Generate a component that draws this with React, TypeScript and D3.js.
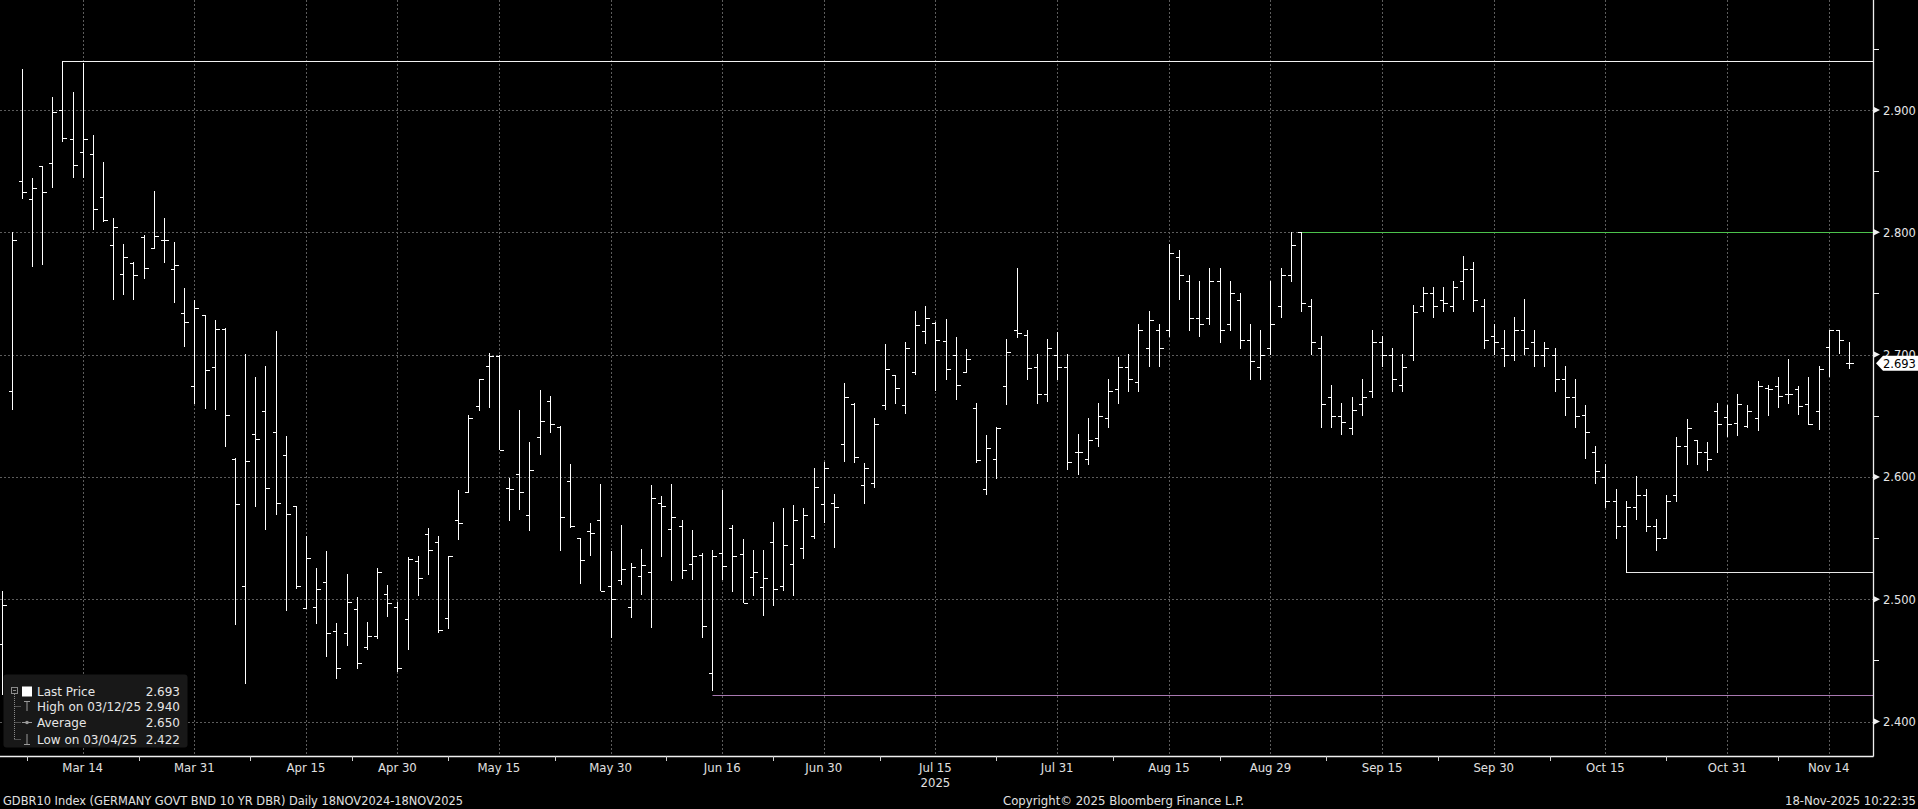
import React from "react";
import * as d3 from "d3";

const dates = [
  "2025-03-04","2025-03-05","2025-03-06","2025-03-07","2025-03-10","2025-03-11","2025-03-12","2025-03-13","2025-03-14",
  "2025-03-17","2025-03-18","2025-03-19","2025-03-20","2025-03-21","2025-03-24","2025-03-25","2025-03-26","2025-03-27","2025-03-28","2025-03-31",
  "2025-04-01","2025-04-02","2025-04-03","2025-04-04","2025-04-07","2025-04-08","2025-04-09","2025-04-10","2025-04-11","2025-04-14","2025-04-15",
  "2025-04-16","2025-04-17","2025-04-22","2025-04-23","2025-04-24","2025-04-25","2025-04-28","2025-04-29","2025-04-30",
  "2025-05-02","2025-05-05","2025-05-06","2025-05-07","2025-05-08","2025-05-09","2025-05-12","2025-05-13","2025-05-14","2025-05-15","2025-05-16",
  "2025-05-19","2025-05-20","2025-05-21","2025-05-22","2025-05-23","2025-05-26","2025-05-27","2025-05-28","2025-05-29","2025-05-30",
  "2025-06-02","2025-06-03","2025-06-04","2025-06-05","2025-06-06","2025-06-09","2025-06-10","2025-06-11","2025-06-12","2025-06-13",
  "2025-06-16","2025-06-17","2025-06-18","2025-06-19","2025-06-20","2025-06-23","2025-06-24","2025-06-25","2025-06-26","2025-06-27","2025-06-30",
  "2025-07-01","2025-07-02","2025-07-03","2025-07-04","2025-07-07","2025-07-08","2025-07-09","2025-07-10","2025-07-11","2025-07-14","2025-07-15",
  "2025-07-16","2025-07-17","2025-07-18","2025-07-21","2025-07-22","2025-07-23","2025-07-24","2025-07-25","2025-07-28","2025-07-29","2025-07-30","2025-07-31",
  "2025-08-01","2025-08-04","2025-08-05","2025-08-06","2025-08-07","2025-08-08","2025-08-11","2025-08-12","2025-08-13","2025-08-14","2025-08-15",
  "2025-08-18","2025-08-19","2025-08-20","2025-08-21","2025-08-22","2025-08-25","2025-08-26","2025-08-27","2025-08-28","2025-08-29",
  "2025-09-01","2025-09-02","2025-09-03","2025-09-04","2025-09-05","2025-09-08","2025-09-09","2025-09-10","2025-09-11","2025-09-12",
  "2025-09-15","2025-09-16","2025-09-17","2025-09-18","2025-09-19","2025-09-22","2025-09-23","2025-09-24","2025-09-25","2025-09-26","2025-09-29","2025-09-30",
  "2025-10-01","2025-10-02","2025-10-03","2025-10-06","2025-10-07","2025-10-08","2025-10-09","2025-10-10","2025-10-13","2025-10-14","2025-10-15",
  "2025-10-16","2025-10-17","2025-10-20","2025-10-21","2025-10-22","2025-10-23","2025-10-24","2025-10-27","2025-10-28","2025-10-29","2025-10-30","2025-10-31",
  "2025-11-03","2025-11-04","2025-11-05","2025-11-06","2025-11-07","2025-11-10","2025-11-11","2025-11-12","2025-11-13","2025-11-14","2025-11-17","2025-11-18"
];

const opens = [
  2.463,2.670,2.842,2.827,2.854,2.857,2.900,2.876,2.866,
  2.864,2.829,2.790,2.766,2.775,2.796,2.787,2.794,2.770,2.734,2.674,
  2.732,2.690,2.721,2.615,2.511,2.635,2.654,2.637,2.618,2.576,2.493,
  2.494,2.514,2.474,2.472,2.492,2.461,2.470,2.504,2.494,
  2.484,2.531,2.553,2.547,2.485,2.565,2.588,2.658,2.691,2.699,2.591,
  2.602,2.569,2.633,2.662,2.641,2.597,2.550,2.556,2.565,2.511,
  2.516,2.494,2.519,2.522,2.579,2.557,2.560,2.529,2.536,2.440,
  2.538,2.558,2.537,2.518,2.510,2.547,2.511,2.529,2.542,2.552,2.578,
  2.579,2.627,2.660,2.593,2.595,2.659,2.683,2.659,2.686,2.719,2.726,
  2.711,2.700,2.686,2.656,2.590,2.615,2.674,2.720,2.716,2.690,2.668,2.700,
  2.690,2.620,2.615,2.632,2.648,2.672,2.690,2.678,2.705,2.720,2.720,
  2.780,2.760,2.730,2.730,2.760,2.725,2.745,2.712,2.690,2.705,
  2.740,2.765,2.800,2.740,2.705,2.665,2.650,2.640,2.660,2.670,
  2.710,2.700,2.675,2.700,2.740,2.750,2.745,2.740,2.760,2.770,2.740,2.715,
  2.705,2.700,2.720,2.710,2.700,2.700,2.680,2.665,2.651,2.620,2.600,
  2.580,2.560,2.575,2.585,2.560,2.550,2.585,2.625,2.630,2.620,2.654,2.649,
  2.644,2.642,2.648,2.673,2.674,2.668,2.672,2.660,2.654,2.706,2.720,2.693
];

const highs = [
  2.506,2.800,2.933,2.844,2.854,2.910,2.940,2.914,2.938,
  2.879,2.857,2.811,2.790,2.775,2.797,2.833,2.811,2.792,2.754,2.744,
  2.732,2.728,2.721,2.615,2.700,2.681,2.690,2.719,2.633,2.576,2.551,
  2.525,2.539,2.480,2.520,2.501,2.481,2.525,2.511,2.497,
  2.534,2.535,2.558,2.551,2.535,2.589,2.650,2.680,2.701,2.699,2.599,
  2.654,2.628,2.671,2.666,2.641,2.610,2.550,2.562,2.594,2.539,
  2.560,2.529,2.541,2.593,2.584,2.594,2.564,2.556,2.537,2.540,
  2.589,2.560,2.549,2.540,2.540,2.563,2.574,2.577,2.574,2.607,2.612,
  2.586,2.676,2.660,2.611,2.648,2.708,2.683,2.710,2.735,2.739,2.726,
  2.729,2.714,2.704,2.660,2.634,2.640,2.712,2.770,2.720,2.700,2.712,2.718,
  2.700,2.635,2.648,2.660,2.680,2.698,2.700,2.725,2.735,2.725,2.790,
  2.785,2.765,2.760,2.770,2.770,2.760,2.750,2.725,2.720,2.760,
  2.770,2.800,2.800,2.745,2.715,2.675,2.660,2.665,2.680,2.720,
  2.715,2.705,2.700,2.740,2.755,2.755,2.755,2.760,2.780,2.775,2.745,2.725,
  2.720,2.730,2.745,2.720,2.710,2.705,2.690,2.680,2.658,2.625,2.610,
  2.590,2.580,2.600,2.590,2.565,2.585,2.632,2.647,2.630,2.628,2.660,2.658,
  2.667,2.658,2.678,2.675,2.681,2.696,2.674,2.681,2.690,2.720,2.720,2.710
];

const lows = [
  2.422,2.655,2.828,2.772,2.774,2.837,2.874,2.845,2.845,
  2.802,2.809,2.745,2.749,2.745,2.762,2.787,2.775,2.743,2.707,2.660,
  2.656,2.655,2.625,2.479,2.431,2.576,2.557,2.569,2.491,2.509,2.493,
  2.480,2.453,2.435,2.462,2.443,2.459,2.468,2.486,2.441,
  2.459,2.503,2.520,2.473,2.476,2.549,2.588,2.654,2.657,2.622,2.564,
  2.573,2.556,2.618,2.636,2.540,2.559,2.513,2.536,2.507,2.469,
  2.512,2.485,2.504,2.477,2.535,2.515,2.517,2.516,2.469,2.425,
  2.516,2.506,2.497,2.503,2.487,2.495,2.507,2.503,2.533,2.550,2.563,
  2.542,2.613,2.612,2.578,2.591,2.655,2.660,2.652,2.684,2.709,2.671,
  2.680,2.663,2.686,2.612,2.586,2.599,2.659,2.714,2.680,2.660,2.662,2.680,
  2.606,2.602,2.610,2.625,2.640,2.660,2.670,2.670,2.690,2.690,2.715,
  2.745,2.720,2.715,2.725,2.710,2.720,2.705,2.680,2.680,2.700,
  2.730,2.760,2.735,2.700,2.640,2.640,2.635,2.635,2.650,2.665,
  2.690,2.670,2.670,2.695,2.735,2.730,2.735,2.735,2.745,2.735,2.705,2.700,
  2.690,2.695,2.700,2.690,2.690,2.670,2.650,2.640,2.615,2.595,2.575,
  2.550,2.522,2.565,2.555,2.540,2.550,2.580,2.610,2.610,2.605,2.620,2.633,
  2.634,2.640,2.638,2.650,2.657,2.660,2.651,2.643,2.639,2.682,2.701,2.689
];

const closes = [
  2.495,2.794,2.833,2.836,2.833,2.898,2.877,2.855,2.876,
  2.819,2.810,2.804,2.780,2.765,2.771,2.797,2.794,2.773,2.727,2.738,
  2.687,2.721,2.651,2.578,2.613,2.631,2.591,2.579,2.570,2.511,2.534,
  2.508,2.472,2.444,2.498,2.448,2.470,2.522,2.497,2.444,
  2.533,2.517,2.540,2.475,2.535,2.562,2.648,2.680,2.699,2.622,2.590,
  2.588,2.606,2.646,2.643,2.567,2.560,2.532,2.554,2.507,2.500,
  2.525,2.526,2.528,2.583,2.576,2.567,2.524,2.535,2.478,2.535,
  2.527,2.535,2.497,2.522,2.517,2.508,2.544,2.565,2.569,2.592,2.607,
  2.575,2.665,2.616,2.607,2.643,2.688,2.673,2.705,2.724,2.730,2.712,
  2.688,2.675,2.696,2.614,2.624,2.640,2.702,2.718,2.689,2.668,2.705,2.690,
  2.612,2.620,2.630,2.650,2.670,2.690,2.680,2.720,2.728,2.705,2.783,
  2.765,2.730,2.725,2.760,2.720,2.750,2.712,2.695,2.700,2.725,
  2.765,2.790,2.742,2.710,2.660,2.650,2.645,2.655,2.665,2.710,
  2.700,2.680,2.690,2.735,2.750,2.740,2.742,2.755,2.770,2.745,2.712,2.710,
  2.700,2.720,2.705,2.700,2.705,2.680,2.665,2.650,2.637,2.605,2.580,
  2.560,2.575,2.585,2.560,2.550,2.580,2.625,2.640,2.620,2.615,2.643,2.643,
  2.660,2.654,2.674,2.672,2.666,2.668,2.658,2.643,2.688,2.720,2.712,2.693
];

const yTicks = [2.4, 2.5, 2.6, 2.7, 2.8, 2.9];
const yMinorTicks = [2.45, 2.55, 2.65, 2.75, 2.85, 2.95];
const xTickDates = ["2025-03-14","2025-03-31","2025-04-15","2025-04-30","2025-05-15","2025-05-30","2025-06-16","2025-06-30",
  "2025-07-15","2025-07-31","2025-08-15","2025-08-29","2025-09-15","2025-09-30","2025-10-15","2025-10-31","2025-11-14"];
const xTickLabels = ["Mar 14","Mar 31","Apr 15","Apr 30","May 15","May 30","Jun 16","Jun 30",
  "Jul 15","Jul 31","Aug 15","Aug 29","Sep 15","Sep 30","Oct 15","Oct 31","Nov 14"];

const refValues = [2.94, 2.8, 2.422, 2.522];
const refStarts = ["2025-03-12", "2025-09-03", "2025-06-13", "2025-10-17"];
const refColors = ["#f2f2f2", "#4cc24c", "#a878b0", "#e8e8e8"];

const legendLabels = ["Last Price", "High on 03/12/25", "Average", "Low on 03/04/25"];
const legendValues = ["2.693", "2.940", "2.650", "2.422"];
const lastPrice = 2.693;

const W = 1918, H = 809;
const AXIS_X = 1873, AXIS_Y = 756;
const COND = "'Liberation Sans Narrow','DejaVu Sans Condensed','Arial Narrow',sans-serif";
const SANS = "'DejaVu Sans','Noto Sans',sans-serif";

export default function App() {
  const x = d3.scalePoint<string>().domain(dates).range([1.5, 1849]);
  const y = d3.scaleLinear().domain([2.4, 2.9]).range([721.5, 110]);
  const px = (v: number) => Math.round(v) + 0.5;

  const bars = dates.map((d, i) => {
    const cx = px(x(d)!);
    const p = d3.path();
    p.moveTo(cx, y(highs[i]) - 0.5);
    p.lineTo(cx, y(lows[i]) + 0.5);
    p.moveTo(cx - 4, Math.round(y(opens[i])) + 0.5);
    p.lineTo(cx, Math.round(y(opens[i])) + 0.5);
    p.moveTo(cx, Math.round(y(closes[i])) + 0.5);
    p.lineTo(cx + 4, Math.round(y(closes[i])) + 0.5);
    return p.toString();
  });

  const tickIdx = xTickDates.map((d) => dates.indexOf(d));
  const minorX: number[] = [];
  tickIdx.forEach((ti, k) => {
    const prev = k === 0 ? ti - (tickIdx[1] - tickIdx[0]) : tickIdx[k - 1];
    const mid = (prev + ti) / 2;
    minorX.push(1.5 + (mid / (dates.length - 1)) * (1849 - 1.5));
  });

  const lpY = y(lastPrice);

  return (
    <div style={{ position: "absolute", left: 0, top: 0, width: W, height: H, background: "#000", overflow: "hidden" }}>
      <svg width={W} height={H} style={{ display: "block" }}>
        <rect x={0} y={0} width={W} height={H} fill="#000" />
        {yTicks.map((t) => (
          <line key={"gy" + t} x1={0} x2={AXIS_X} y1={px(y(t))} y2={px(y(t))} stroke="#5c5c5c" strokeDasharray="2,2" />
        ))}
        {xTickDates.map((d) => (
          <line key={"gx" + d} x1={px(x(d)!)} x2={px(x(d)!)} y1={0} y2={AXIS_Y} stroke="#5c5c5c" strokeDasharray="2,2" />
        ))}
        {refValues.map((v, i) => (
          <line key={"ref" + i} x1={px(x(refStarts[i])!)} x2={AXIS_X} y1={px(y(v))} y2={px(y(v))} stroke={refColors[i]} strokeWidth={1.2} />
        ))}
        <g stroke="#ffffff" strokeWidth={1.3} fill="none" shapeRendering="crispEdges">
          {bars.map((b, i) => (
            <path key={i} d={b} />
          ))}
        </g>
        <line x1={AXIS_X + 0.5} x2={AXIS_X + 0.5} y1={0} y2={AXIS_Y + 0.5} stroke="#f0f0f0" strokeWidth={1.3} />
        <line x1={0} x2={AXIS_X + 0.5} y1={AXIS_Y + 0.5} y2={AXIS_Y + 0.5} stroke="#f0f0f0" strokeWidth={1.3} />
        {yMinorTicks.map((t) => (
          <line key={"ym" + t} x1={AXIS_X} x2={AXIS_X + 6} y1={px(y(t))} y2={px(y(t))} stroke="#f0f0f0" />
        ))}
        {yTicks.map((t) => (
          <g key={"yl" + t}>
            <path d={`M${AXIS_X + 1},${y(t) - 3}L${AXIS_X + 7},${y(t)}L${AXIS_X + 1},${y(t) + 3}Z`} fill="#f0f0f0" />
            <text x={AXIS_X + 10} y={y(t) + 4.5} fill="#e6e6e6" fontFamily={SANS} fontSize={11.5}>
              {d3.format(".3f")(t)}
            </text>
          </g>
        ))}
        {minorX.map((mx, i) => (
          <line key={"xm" + i} x1={px(mx)} x2={px(mx)} y1={AXIS_Y} y2={AXIS_Y + 5} stroke="#d0d0d0" />
        ))}
        {xTickDates.map((d, i) => (
          <text key={"xl" + d} x={x(d)!} y={772} textAnchor="middle" fill="#e0e0e0" fontFamily={COND} fontSize={13}>
            {xTickLabels[i]}
          </text>
        ))}
        <text x={x("2025-07-15")!} y={787} textAnchor="middle" fill="#e0e0e0" fontFamily={COND} fontSize={13}>2025</text>

        <path d={`M${AXIS_X + 3},${lpY}L${AXIS_X + 10},${lpY - 7.5}L${W},${lpY - 7.5}L${W},${lpY + 7.5}L${AXIS_X + 10},${lpY + 7.5}Z`} fill="#ffffff" />
        <text x={AXIS_X + 10} y={lpY + 4.5} fill="#000" fontFamily={SANS} fontSize={11.5}>{d3.format(".3f")(lastPrice)}</text>

        <rect x={3.5} y={674.5} width={184} height={73} rx={3} fill="#181818" />
        <g stroke="#8a8a8a" strokeDasharray="1,1" fill="none">
          <line x1={14.5} x2={14.5} y1={694} y2={739} />
          <line x1={14.5} x2={21} y1={706.5} y2={706.5} />
          <line x1={14.5} x2={21} y1={722.5} y2={722.5} />
          <line x1={14.5} x2={21} y1={739.5} y2={739.5} />
        </g>
        <rect x={11.5} y={687.5} width={6} height={6} fill="#181818" stroke="#8a8a8a" />
        <line x1={13} x2={16} y1={690.5} y2={690.5} stroke="#8a8a8a" />
        <rect x={22} y={686.5} width={10} height={10} fill="#ffffff" />
        <g stroke="#9a9a9a" fill="none">
          <line x1={24} x2={30} y1={701.5} y2={701.5} />
          <line x1={27} x2={27} y1={701.5} y2={711} />
          <line x1={22} x2={32} y1={722.5} y2={722.5} />
          <line x1={27} x2={27} y1={734} y2={744} />
          <line x1={24} x2={30} y1={744.5} y2={744.5} />
        </g>
        <circle cx={27} cy={722.5} r={1.8} fill="#9a9a9a" />
        {legendLabels.map((l, i) => (
          <g key={"lg" + i}>
            <text x={37} y={[696, 711, 727, 744][i]} fill="#e6e6e6" fontFamily={SANS} fontSize={12}>{l}</text>
            <text x={180} y={[696, 711, 727, 744][i]} textAnchor="end" fill="#e6e6e6" fontFamily={SANS} fontSize={12}>{legendValues[i]}</text>
          </g>
        ))}

        <text x={3} y={805} fill="#e0e0e0" fontFamily={COND} fontSize={13} textLength={460} lengthAdjust="spacingAndGlyphs">
          GDBR10 Index (GERMANY GOVT BND 10 YR DBR) Daily 18NOV2024-18NOV2025
        </text>
        <text x={1003} y={805} fill="#e0e0e0" fontFamily={COND} fontSize={13} textLength={241} lengthAdjust="spacingAndGlyphs">
          Copyright© 2025 Bloomberg Finance L.P.
        </text>
        <text x={1785} y={805} fill="#e0e0e0" fontFamily={COND} fontSize={13} textLength={131} lengthAdjust="spacingAndGlyphs">
          18-Nov-2025 10:22:35
        </text>
      </svg>
    </div>
  );
}
